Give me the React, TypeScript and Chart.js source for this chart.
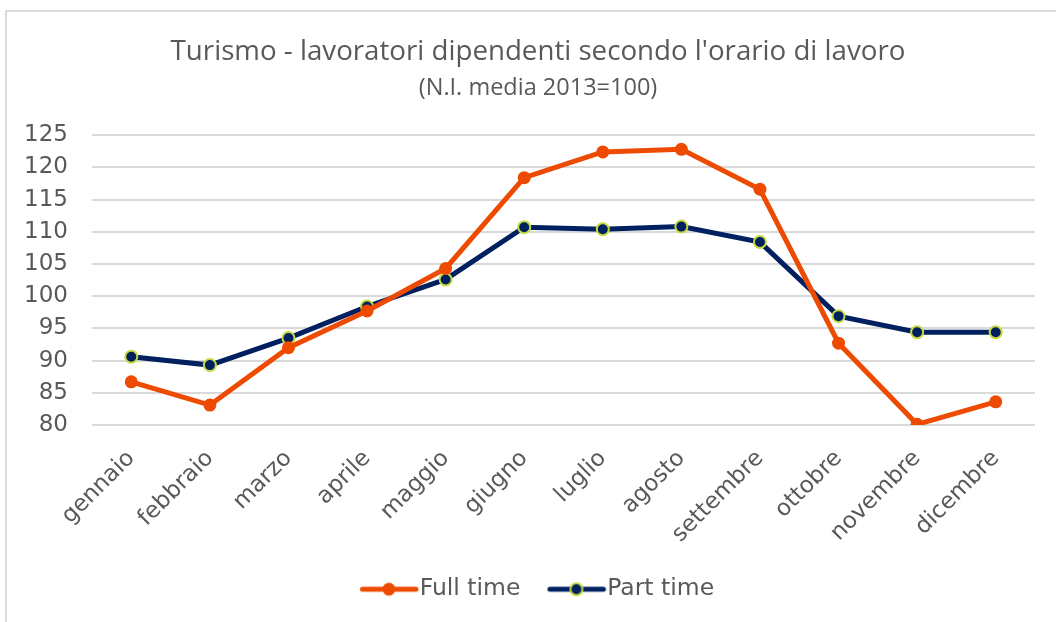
import React, { useEffect, useRef } from "react";
import { Chart, registerables } from "chart.js";

Chart.register(...registerables);

const categories = [
  "gennaio", "febbraio", "marzo", "aprile", "maggio", "giugno",
  "luglio", "agosto", "settembre", "ottobre", "novembre", "dicembre",
];
const fullTime = [86.7, 83.1, 92.0, 97.7, 104.3, 118.4, 122.4, 122.8, 116.6, 92.7, 80.1, 83.6];
const partTime = [90.6, 89.3, 93.5, 98.4, 102.6, 110.7, 110.4, 110.8, 108.4, 96.9, 94.4, 94.4];
const seriesNames = ["Full time", "Part time"];
const titleText = "Turismo - lavoratori dipendenti secondo l'orario di lavoro";
const subtitleText = "(N.I. media 2013=100)";

const ORANGE = "#EE4B02";
const NAVY = "#002060";
const LIME = "#C5DA3E";
const TEXT = "#595959";
const GRID = "#D9D9D9";
const SANS = "DejaVu Sans, Verdana, sans-serif";
const TITLE_FONT = "Open Sans, sans-serif";

function legendIcon(line: string, fill: string, border: string, borderW: number, r: number) {
  const c = document.createElement("canvas");
  c.width = 70;
  c.height = 18;
  const ctx = c.getContext("2d")!;
  ctx.strokeStyle = line;
  ctx.lineWidth = 5;
  ctx.lineCap = "round";
  ctx.beginPath();
  ctx.moveTo(12.5, 9);
  ctx.lineTo(66, 9);
  ctx.stroke();
  ctx.beginPath();
  ctx.arc(39, 9, r, 0, Math.PI * 2);
  ctx.fillStyle = fill;
  ctx.fill();
  if (borderW > 0) {
    ctx.lineWidth = borderW;
    ctx.strokeStyle = border;
    ctx.stroke();
  }
  return c;
}

export default function App() {
  const ref = useRef<HTMLCanvasElement | null>(null);

  useEffect(() => {
    if (!ref.current) return;
    const icons = [
      legendIcon(ORANGE, ORANGE, ORANGE, 0, 6.5),
      legendIcon(NAVY, NAVY, LIME, 2, 6),
    ];
    const chart = new Chart(ref.current, {
      type: "line",
      data: {
        labels: categories,
        datasets: [
          {
            label: seriesNames[0],
            data: fullTime,
            borderColor: ORANGE,
            backgroundColor: ORANGE,
            borderWidth: 5,
            pointRadius: 6.5,
            pointBorderWidth: 0,
            pointBackgroundColor: ORANGE,
            tension: 0,
          },
          {
            label: seriesNames[1],
            data: partTime,
            borderColor: NAVY,
            backgroundColor: NAVY,
            borderWidth: 5,
            pointRadius: 6,
            pointBorderWidth: 2,
            pointBorderColor: LIME,
            pointBackgroundColor: NAVY,
            tension: 0,
          },
        ],
      },
      options: {
        animation: false,
        responsive: false,
        maintainAspectRatio: false,
        layout: { padding: { left: 20, right: 0, top: 0, bottom: 11 } },
        plugins: {
          title: {
            display: true,
            text: titleText,
            color: TEXT,
            font: { family: TITLE_FONT, size: 27.7, weight: "normal", lineHeight: 1.2 },
            padding: { top: 35.4, bottom: 5.3 },
          },
          subtitle: {
            display: true,
            text: subtitleText,
            color: TEXT,
            font: { family: TITLE_FONT, size: 23.5, weight: "normal", lineHeight: 1.2 },
            padding: { top: 0, bottom: 33 },
          },
          legend: {
            display: true,
            position: "bottom",
            labels: {
              color: TEXT,
              font: { family: SANS, size: 23.5 },
              usePointStyle: true,
              pointStyleWidth: 46,
              padding: 29,
              generateLabels: (ch: any) => {
                const base = (Chart.defaults.plugins.legend.labels as any).generateLabels(ch);
                return base.map((it: any, i: number) => ({ ...it, pointStyle: icons[i], fontColor: TEXT }));
              },
            },
          },
          tooltip: { enabled: false },
        },
        scales: {
          x: {
            offset: true,
            grid: { display: false, drawTicks: false, offset: true },
            border: { display: false },
            ticks: {
              color: TEXT,
              font: { family: SANS, size: 23 },
              maxRotation: 45,
              minRotation: 45,
              padding: 20,
            },
            afterFit: (s: any) => {
              s.height = 123.5;
            },
          },
          y: {
            min: 80,
            max: 125,
            grid: { color: GRID, lineWidth: 2, drawTicks: false },
            border: { display: false },
            ticks: {
              stepSize: 5,
              color: TEXT,
              font: { family: SANS, size: 23 },
              padding: 24,
            },
            afterFit: (s: any) => {
              s.width = 72;
            },
          },
          yRightSpace: {
            type: "linear",
            position: "right",
            display: true,
            grid: { display: false, drawTicks: false },
            border: { display: false },
            ticks: { display: false },
            afterFit: (s: any) => {
              s.width = 21;
            },
          },
        },
      },
    });
    return () => chart.destroy();
  }, []);

  return (
    <div style={{ position: "absolute", left: 0, top: 0, width: 1056, height: 622, background: "#fff", overflow: "hidden" }}>
      <div
        style={{
          position: "absolute",
          left: 5,
          top: 10,
          width: 1051,
          height: 612,
          borderTop: `2px solid ${GRID}`,
          borderLeft: `2px solid ${GRID}`,
          boxSizing: "border-box",
        }}
      />
      <canvas ref={ref} width={1056} height={622} style={{ position: "absolute", left: 0, top: 0 }} />
    </div>
  );
}
